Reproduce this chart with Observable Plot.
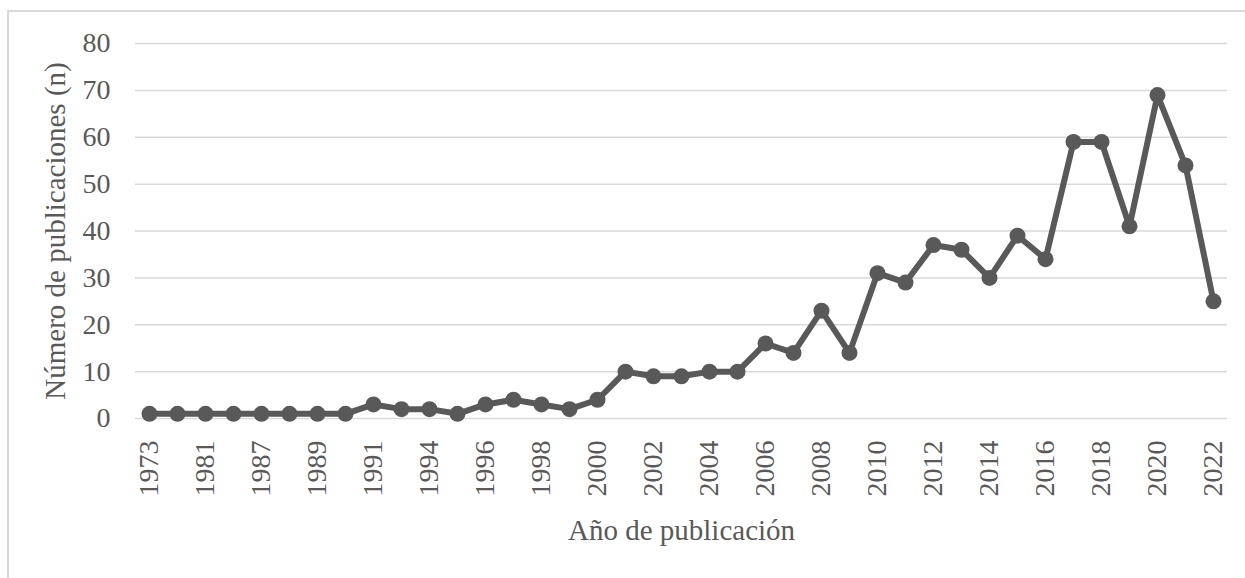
<!DOCTYPE html>
<html>
<head>
<meta charset="utf-8">
<script src="https://cdn.jsdelivr.net/npm/d3@7"></script>
<script src="https://cdn.jsdelivr.net/npm/@observablehq/plot@0.6"></script>
<style>
  html, body { margin: 0; padding: 0; background: #fff; overflow: hidden; }
  #wrap { position: relative; width: 1245px; height: 578px; }
  #border { position: absolute; left: 7px; top: 10px; width: 1300px; height: 700px;
            border-left: 2px solid #d9d9d9; border-top: 2px solid #d9d9d9; pointer-events: none; }
  #chart { position: absolute; left: 0; top: 0; }
</style>
</head>
<body>
<div id="wrap"><div id="border"></div><div id="chart"></div></div>
<script>
const years = ["1973","1979","1981","1985","1987","1988","1989","1990","1991","1993","1994","1995","1996","1997","1998","1999","2000","2001","2002","2003","2004","2005","2006","2007","2008","2009","2010","2011","2012","2013","2014","2015","2016","2017","2018","2019","2020","2021","2022"];
const counts = [1,1,1,1,1,1,1,1,3,2,2,1,3,4,3,2,4,10,9,9,10,10,16,14,23,14,31,29,37,36,30,39,34,59,59,41,69,54,25];
const labeledYears = ["1973","1981","1987","1989","1991","1994","1996","1998","2000","2002","2004","2006","2008","2010","2012","2014","2016","2018","2020","2022"];
const yTicks = [0,10,20,30,40,50,60,70,80];
const xTitle = "Año de publicación";
const yTitle = "Número de publicaciones (n)";

const data = years.map((y, i) => ({year: y, n: counts[i]}));
const ink = "#595959";
const font = "'Liberation Serif', 'Times New Roman', serif";

const chart = Plot.plot({
  width: 1245,
  height: 578,
  marginLeft: 135,
  marginRight: 18,
  marginTop: 43,
  marginBottom: 160,
  style: {fontFamily: font, color: ink, background: "transparent"},
  x: {type: "point", domain: years, padding: 0.5},
  y: {domain: [0, 80]},
  marks: [
    Plot.ruleY(yTicks, {stroke: "#d9d9d9", strokeWidth: 1.5}),
    Plot.axisY({ticks: yTicks, tickSize: 0, tickPadding: 25, fontSize: 28, label: null, fill: ink}),
    Plot.axisX({ticks: labeledYears, tickSize: 0, tickPadding: 22, tickRotate: -90, fontSize: 28, label: null, fill: ink}),
    Plot.line(data, {x: "year", y: "n", stroke: ink, strokeWidth: 6}),
    Plot.dot(data, {x: "year", y: "n", r: 8, fill: ink, stroke: "none"}),
    Plot.text([xTitle], {frameAnchor: "bottom", dy: 112, fontSize: 29, fill: ink, lineAnchor: "middle"}),
    Plot.text([yTitle], {frameAnchor: "left", dx: -80, rotate: -90, fontSize: 29, fill: ink, textAnchor: "middle", lineAnchor: "middle"})
  ]
});
document.getElementById("chart").appendChild(chart);
</script>
</body>
</html>
